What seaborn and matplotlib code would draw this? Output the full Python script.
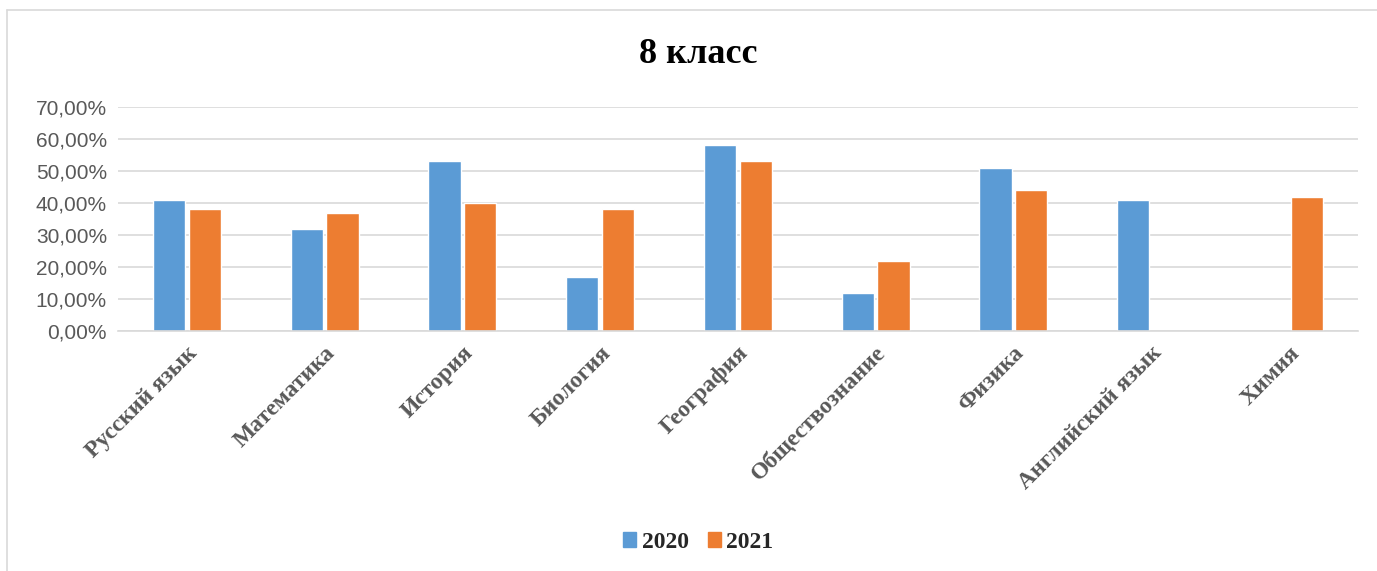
import numpy as np
import pandas as pd
import matplotlib
matplotlib.use("Agg")
import matplotlib.pyplot as plt
from matplotlib.lines import Line2D
from matplotlib.ticker import FuncFormatter
import seaborn as sns

# Данные
subjects = ["Русский язык", "Математика", "История", "Биология", "География",
            "Обществознание", "Физика", "Английский язык", "Химия"]
years = ["2020", "2021"]
vals_2020 = [0.41, 0.32, 0.53, 0.17, 0.58, 0.12, 0.51, 0.41, np.nan]
vals_2021 = [0.38, 0.37, 0.40, 0.38, 0.53, 0.22, 0.44, np.nan, 0.42]
colors = ["#5B9BD5", "#ED7D31"]

df = pd.DataFrame({
    "subject": subjects * 2,
    "year": [years[0]] * len(subjects) + [years[1]] * len(subjects),
    "value": vals_2020 + vals_2021,
})

sns.set_style("white")
serif = ["Liberation Serif", "DejaVu Serif"]
sans = ["Liberation Sans", "DejaVu Sans"]

fig = plt.figure(figsize=(13.77, 5.71), dpi=100)
ax = fig.add_axes([0.0857, 0.420, 0.9003, 0.3926])

sns.barplot(data=df, x="subject", y="value", hue="year", order=subjects,
            hue_order=years, palette=colors, saturation=1, width=0.52, gap=0.1,
            errorbar=None, ax=ax, legend=True)

ax.set_ylim(0, 0.70)
ax.set_yticks(np.arange(0, 0.71, 0.10))
ax.yaxis.set_major_formatter(FuncFormatter(lambda v, p: f"{v * 100:.2f}%".replace(".", ",")))
ax.grid(axis="y", color="#D9D9D9", linewidth=1.2)
ax.set_axisbelow(True)
for s in ["top", "right", "left"]:
    ax.spines[s].set_visible(False)
ax.spines["bottom"].set_color("#D9D9D9")
ax.spines["bottom"].set_linewidth(1.2)
ax.set_xlim(-0.5, len(subjects) - 0.5)
ax.set_xlabel("")
ax.set_ylabel("")
ax.tick_params(axis="both", length=0)
ax.tick_params(axis="y", pad=8)

for lab in ax.get_yticklabels():
    lab.set_fontfamily(sans)
    lab.set_fontsize(15)
    lab.set_color("#595959")

ax.set_xticks(range(len(subjects)))
ax.set_xticklabels(subjects, rotation=45, ha="right", rotation_mode="anchor",
                   fontfamily=serif, fontweight="bold", fontsize=17, color="#595959")
ax.tick_params(axis="x", pad=8)

fig.text(0.507, 0.905, "8 класс", ha="center", va="center",
         fontfamily=serif, fontweight="bold", fontsize=26, color="black")

ax.legend_.remove()
handles = [plt.Rectangle((0, 0), 1, 1, color=c) for c in colors]
leg = fig.legend(handles, years, loc="center", bbox_to_anchor=(0.507, 0.05), ncol=2,
                 frameon=False, handlelength=0.55, handleheight=0.55, handletextpad=0.25,
                 columnspacing=0.8, prop={"family": serif, "weight": "bold", "size": 17})

# рамка области диаграммы
fig.add_artist(Line2D([7 / 1377, 1], [1 - 10 / 571, 1 - 10 / 571], transform=fig.transFigure,
                      color="#D9D9D9", linewidth=1.2))
fig.add_artist(Line2D([7 / 1377, 7 / 1377], [0, 1 - 10 / 571], transform=fig.transFigure,
                      color="#D9D9D9", linewidth=1.2))

fig.savefig("out.png", dpi=100, facecolor="white")
